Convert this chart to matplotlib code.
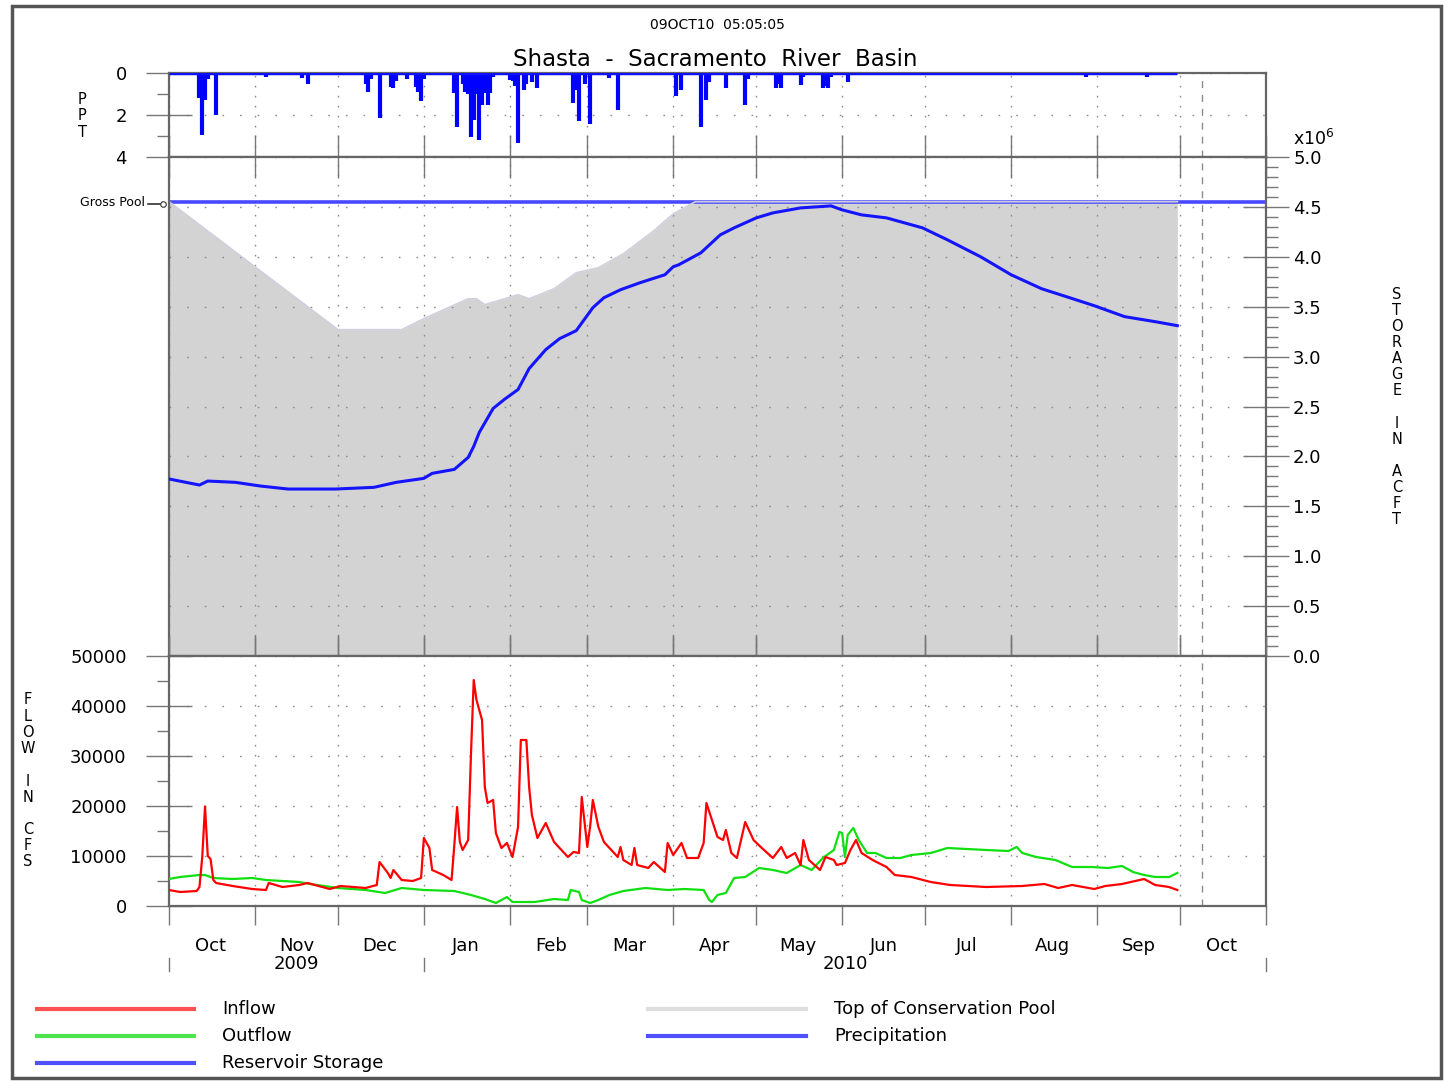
"""
Shasta - Sacramento River Basin reservoir summary plot (WY 2010).

Three stacked panels sharing a daily time axis:
  top    : precipitation (inches, inverted)
  middle : reservoir storage vs. top of conservation pool (acre-feet x 1e6)
  bottom : inflow / outflow (cfs)
"""

import matplotlib
matplotlib.use("Agg")
import matplotlib.pyplot as plt
import matplotlib.dates as mdates
from matplotlib.lines import Line2D
from matplotlib.patches import Rectangle
from matplotlib.ticker import MultipleLocator, FixedLocator, FormatStrFormatter
import numpy as np


# ---------------------------------------------------------------------------
# Data (days counted from 01 Oct 2009)
# ---------------------------------------------------------------------------

START = np.datetime64("2009-10-01")
GROSS_POOL = 4.552  # million acre-feet

storage_day = [0, 11, 14, 24, 33, 43, 60, 74, 82, 92, 95, 103, 108, 110, 112,
               117, 121, 126, 130, 136, 141, 147, 153, 157, 163, 170, 179, 182,
               184, 192, 199, 204, 212, 218, 228, 239, 243, 250, 259, 272, 281,
               293, 304, 315, 324, 334, 345, 356, 364]
storage_maf = [1.774, 1.713, 1.753, 1.740, 1.703, 1.673, 1.673, 1.690, 1.740,
               1.780, 1.830, 1.870, 1.990, 2.100, 2.240, 2.480, 2.570, 2.670,
               2.880, 3.070, 3.180, 3.260, 3.490, 3.590, 3.670, 3.740, 3.820,
               3.900, 3.920, 4.040, 4.220, 4.290, 4.390, 4.440, 4.490, 4.510,
               4.470, 4.420, 4.390, 4.290, 4.170, 4.000, 3.820, 3.680, 3.600,
               3.510, 3.400, 3.350, 3.310]

cons_day = [0, 61, 84, 92, 108, 111, 114, 126, 130, 139, 147, 155, 164, 175,
            182, 190, 364]
cons_maf = [4.552, 3.27, 3.27, 3.38, 3.58, 3.58, 3.52, 3.62, 3.58, 3.68, 3.84,
            3.89, 4.03, 4.26, 4.43, 4.552, 4.552]

inflow_day = [0, 4, 10, 11, 12, 13, 14, 15, 16, 17, 23, 30, 35, 36, 41, 47, 50,
              58, 62, 71, 75, 76, 79, 80, 81, 84, 88, 91, 92, 94, 95, 99, 102,
              103, 104, 105, 106, 108, 109, 110, 111, 113, 114, 115, 117, 118,
              120, 122, 124, 126, 127, 129, 130, 131, 133, 136, 139, 144, 146,
              148, 149, 151, 152, 153, 155, 157, 162, 163, 164, 167, 168, 169,
              173, 175, 179, 180, 182, 185, 187, 191, 193, 194, 196, 198, 200,
              201, 203, 205, 208, 211, 214, 218, 221, 223, 226, 228, 229, 231,
              235, 237, 240, 241, 244, 246, 248, 250, 254, 259, 262, 268, 275,
              282, 295, 308, 316, 321, 326, 334, 338, 344, 352, 356, 361, 364]
inflow_cfs = [3200, 2800, 3000, 3800, 9800, 19900, 10000, 9400, 5200, 4600,
              4000, 3400, 3200, 4600, 3800, 4200, 4600, 3400, 4000, 3600, 4200,
              8800, 6600, 5600, 7200, 5200, 5000, 5600, 13600, 11600, 7200,
              6200, 5200, 12200, 19800, 12800, 11200, 13200, 30200, 45200,
              41200, 37200, 23800, 20600, 21200, 14600, 11600, 12600, 9800,
              15800, 33200, 33200, 23800, 18200, 13600, 16600, 12800, 9800,
              10800, 10600, 21800, 11800, 15800, 21200, 15800, 12800, 9800,
              11800, 9200, 8200, 11600, 8200, 7600, 8800, 6800, 12600, 10200,
              12600, 9600, 9600, 12600, 20600, 17200, 13800, 13200, 15200,
              10600, 9600, 16800, 13200, 11600, 9600, 11800, 9600, 10600, 8200,
              13200, 9200, 7200, 9800, 9200, 8200, 8600, 11200, 13200, 10600,
              9200, 7800, 6200, 5800, 4800, 4200, 3800, 4000, 4400, 3600, 4200,
              3400, 4000, 4400, 5400, 4200, 3800, 3200]

outflow_day = [0, 4, 11, 13, 16, 23, 30, 35, 47, 51, 61, 71, 78, 84, 92, 103,
               109, 114, 118, 122, 124, 132, 139, 144, 145, 148, 149, 152, 155,
               159, 164, 172, 180, 186, 193, 195, 196, 198, 201, 204, 208, 213,
               218, 223, 228, 232, 236, 240, 242, 243, 244, 245, 247, 249, 252,
               255, 259, 264, 268, 275, 281, 288, 295, 303, 306, 308, 313, 320,
               326, 333, 339, 344, 348, 352, 356, 361, 364]
outflow_cfs = [5400, 5800, 6200, 6200, 5600, 5400, 5600, 5200, 4800, 4400,
               3600, 3200, 2600, 3600, 3200, 3000, 2200, 1400, 600, 1800, 800,
               800, 1400, 1200, 3200, 2800, 1200, 600, 1200, 2200, 3000, 3600,
               3200, 3400, 3200, 1200, 800, 2200, 2600, 5600, 5800, 7600, 7200,
               6600, 8200, 7200, 9600, 11200, 14800, 14600, 9800, 14200, 15600,
               13200, 10600, 10600, 9600, 9600, 10200, 10600, 11600, 11400,
               11200, 11000, 11800, 10600, 9800, 9200, 7800, 7800, 7600, 8000,
               6800, 6200, 5800, 5800, 6600]

precip_date = ["2009-10-12", "2009-10-13", "2009-10-14", "2009-10-15",
               "2009-10-18", "2009-10-19", "2009-11-05", "2009-11-09",
               "2009-11-18", "2009-11-20", "2009-11-26", "2009-12-11",
               "2009-12-12", "2009-12-13", "2009-12-16", "2009-12-20",
               "2009-12-21", "2009-12-22", "2009-12-26", "2009-12-29",
               "2009-12-30", "2009-12-31", "2010-01-01", "2010-01-09",
               "2010-01-12", "2010-01-13", "2010-01-15", "2010-01-16",
               "2010-01-17", "2010-01-18", "2010-01-19", "2010-01-20",
               "2010-01-21", "2010-01-22", "2010-01-23", "2010-01-24",
               "2010-01-25", "2010-01-26", "2010-02-01", "2010-02-02",
               "2010-02-03", "2010-02-04", "2010-02-06", "2010-02-07",
               "2010-02-09", "2010-02-11", "2010-02-20", "2010-02-24",
               "2010-02-25", "2010-02-26", "2010-02-28", "2010-03-02",
               "2010-03-09", "2010-03-12", "2010-03-29", "2010-04-02",
               "2010-04-04", "2010-04-11", "2010-04-13", "2010-04-14",
               "2010-04-20", "2010-04-27", "2010-04-28", "2010-05-08",
               "2010-05-09", "2010-05-10", "2010-05-17", "2010-05-18",
               "2010-05-25", "2010-05-26", "2010-05-27", "2010-05-28",
               "2010-06-03", "2010-08-28", "2010-09-19"]
precip_in = [1.2, 2.95, 1.3, 0.3, 2.0, 0.1, 0.2, 0.05, 0.25, 0.5, 0.1, 0.5,
             0.9, 0.3, 2.15, 0.65, 0.7, 0.4, 0.3, 0.65, 0.9, 1.35, 0.3, 0.1,
             0.95, 2.57, 0.5, 0.9, 1.0, 3.05, 2.24, 1.0, 3.2, 1.52, 0.95, 1.52,
             0.95, 0.2, 0.33, 0.4, 0.6, 3.33, 0.8, 0.5, 0.43, 0.7, 0.1, 1.43,
             0.8, 2.3, 0.5, 2.43, 0.25, 1.76, 0.1, 1.1, 0.8, 2.57, 1.29, 0.43,
             0.7, 1.52, 0.3, 0.7, 0.5, 0.7, 0.57, 0.2, 0.7, 0.6, 0.7, 0.2,
             0.43, 0.2, 0.2]

year_labels = ["2009", "2010"]

RUN_DATE = np.datetime64("2010-10-09")
RUN_STAMP = "09OCT10  05:05:05"
TITLE = "Shasta  -  Sacramento  River  Basin"


# ---------------------------------------------------------------------------
# Helpers
# ---------------------------------------------------------------------------

W, H = 1447, 1081


def fx(px):
    return px / W


def fy(py):
    return 1 - py / H


def to_dates(days):
    return START + np.asarray(days).astype("timedelta64[D]")


GRID = "#8c8c8c"
SPINE = "#666666"
VDOTS = (0, (1.2, 6.0))
HDOTS = (0, (1.2, 11.5))


def style_axes(ax):
    for s in ax.spines.values():
        s.set_color(SPINE)
        s.set_linewidth(1.6)
    ax.xaxis.set_major_locator(mdates.MonthLocator())
    ax.xaxis.set_minor_locator(mdates.MonthLocator(bymonthday=16))
    ax.grid(axis="x", which="major", color=GRID, linestyle=VDOTS, linewidth=1)
    ax.grid(axis="y", which="major", color=GRID, linestyle=HDOTS, linewidth=1)
    ax.axvline(RUN_DATE, color=GRID, linewidth=1, dashes=(5, 5), zorder=1.6)
    ax.tick_params(axis="x", which="minor", length=0)
    ax.tick_params(axis="both", which="major", color="#777777", width=1)
    ax.tick_params(axis="y", which="minor", color="#777777", width=1)


# ---------------------------------------------------------------------------
# Figure
# ---------------------------------------------------------------------------

fig = plt.figure(figsize=(W / 100, H / 100), dpi=100)
fig.patch.set_facecolor("white")
plt.rcParams["font.family"] = ["DejaVu Sans"]

x0, x1 = 169, 1266
ax_ppt = fig.add_axes([fx(x0), fy(157), fx(x1) - fx(x0), fy(73) - fy(157)])
ax_sto = fig.add_axes([fx(x0), fy(656), fx(x1) - fx(x0), fy(157) - fy(656)],
                      sharex=ax_ppt)
ax_flo = fig.add_axes([fx(x0), fy(906), fx(x1) - fx(x0), fy(656) - fy(906)],
                      sharex=ax_ppt)

for ax in (ax_ppt, ax_sto, ax_flo):
    style_axes(ax)
ax_ppt.set_xlim(np.datetime64("2009-10-01"), np.datetime64("2010-11-01"))

# --- precipitation --------------------------------------------------------
pdates = np.array(precip_date, dtype="datetime64[D]")
ax_ppt.vlines(pdates, 0, precip_in, color="#0000ff", linewidth=3.0, zorder=3)
ax_ppt.plot([START, np.datetime64("2010-09-30")], [0, 0], color="#1010ff",
            linewidth=2.5, zorder=3, solid_capstyle="butt")
ax_ppt.set_ylim(4, 0)
ax_ppt.yaxis.set_major_locator(FixedLocator([0, 2, 4]))
ax_ppt.yaxis.set_minor_locator(FixedLocator([1, 3]))
ax_ppt.yaxis.set_major_formatter(FormatStrFormatter("%d"))
ax_ppt.tick_params(axis="y", which="major", direction="inout", length=33,
                   pad=14, labelsize=13)
ax_ppt.tick_params(axis="y", which="minor", direction="out", length=8.6)
ax_ppt.tick_params(axis="x", which="major", direction="in", length=16,
                   labelbottom=False)
ax_ppt.tick_params(axis="x", which="minor", labelbottom=False)

# --- storage --------------------------------------------------------------
cdates = to_dates(cons_day)
ax_sto.fill_between(cdates, 0, cons_maf, color="#d3d3d3", linewidth=0,
                    zorder=0.8)
ax_sto.axhline(GROSS_POOL, color="#4848ff", linewidth=2.6, zorder=2)
ax_sto.plot(cdates, cons_maf, color="#cfd0dc", linewidth=1.2, zorder=2.2)
ax_sto.plot(to_dates(storage_day), storage_maf, color="#1414ff",
            linewidth=2.2, zorder=3)
ax_sto.set_ylim(0, 5)
ax_sto.yaxis.tick_right()
ax_sto.yaxis.set_major_locator(MultipleLocator(0.5))
ax_sto.yaxis.set_minor_locator(MultipleLocator(0.1))
ax_sto.yaxis.set_major_formatter(FormatStrFormatter("%.1f"))
ax_sto.tick_params(axis="y", which="major", direction="inout", length=33,
                   pad=3, labelsize=13, left=False, right=True)
ax_sto.tick_params(axis="y", which="minor", direction="out", length=8.6,
                   left=False, right=True)
ax_sto.tick_params(axis="x", which="major", direction="in", length=15,
                   top=True, bottom=True, labelbottom=False)
ax_sto.tick_params(axis="x", which="minor", labelbottom=False)

# --- flow -----------------------------------------------------------------
ax_flo.plot(to_dates(outflow_day), outflow_cfs, color="#10e010",
            linewidth=1.6, zorder=3)
ax_flo.plot(to_dates(inflow_day), inflow_cfs, color="#ff0000",
            linewidth=1.6, zorder=3.1)
ax_flo.set_ylim(0, 50000)
ax_flo.yaxis.set_major_locator(MultipleLocator(10000))
ax_flo.yaxis.set_minor_locator(MultipleLocator(5000))
ax_flo.yaxis.set_major_formatter(FormatStrFormatter("%d"))
ax_flo.tick_params(axis="y", which="major", direction="inout", length=33,
                   pad=14, labelsize=13)
ax_flo.tick_params(axis="y", which="minor", direction="out", length=8.6)
ax_flo.tick_params(axis="x", which="major", direction="out", length=14,
                   top=True)
ax_flo.xaxis.set_major_formatter(mdates.DateFormatter(""))
ax_flo.xaxis.set_minor_formatter(mdates.DateFormatter("%b"))
ax_flo.tick_params(axis="x", which="minor", length=0, pad=22, labelsize=13)

# year labels centred on their span, with small separator ticks
xt = ax_flo.get_xaxis_transform()
year_edges = [np.datetime64("2009-10-01"), np.datetime64("2010-01-01"),
              np.datetime64("2010-11-01")]
for i, lab in enumerate(year_labels):
    mid = year_edges[i] + (year_edges[i + 1] - year_edges[i]) / 2
    ax_flo.text(mid, -0.232, lab, transform=xt, ha="center", va="center",
                fontsize=13)
for edge in year_edges:
    ax_flo.plot([edge, edge], [-0.207, -0.258], transform=xt, color="#777777",
                linewidth=1, clip_on=False)

# ---------------------------------------------------------------------------
# Figure-level text
# ---------------------------------------------------------------------------

fig.text(fx(717), fy(25), RUN_STAMP, ha="center", va="center", fontsize=10)
fig.text(fx(715), fy(60), TITLE, ha="center", va="center", fontsize=16.5)

fig.text(fx(82), fy(116), "P\nP\nT", ha="center", va="center",
         fontsize=10.5, linespacing=1.15)
fig.text(fx(28), fy(781), "F\nL\nO\nW\n\nI\nN\n\nC\nF\nS", ha="center",
         va="center", fontsize=10.5, linespacing=1.1)
fig.text(fx(1397), fy(407), "S\nT\nO\nR\nA\nG\nE\n\nI\nN\n\nA\nC\nF\nT",
         ha="center", va="center", fontsize=10.5, linespacing=1.09)
fig.text(fx(1293), fy(139), r"x$\mathregular{10^6}$", ha="left", va="center",
         fontsize=12.5)

fig.text(fx(145), fy(203), "Gross Pool", ha="right", va="center", fontsize=9)
fig.add_artist(Line2D([fx(148), fx(160)], [fy(204), fy(204)],
                      color="#333333", linewidth=1.2))
fig.add_artist(Line2D([fx(163)], [fy(204)], marker="o", markersize=4,
                      markerfacecolor="white", markeredgecolor="#333333",
                      markeredgewidth=0.8))

# legend
legend_rows = [
    (37, 194, 1009, "#ff5252", "Inflow"),
    (37, 194, 1036, "#4ee44e", "Outflow"),
    (37, 194, 1063, "#5050ff", "Reservoir Storage"),
    (648, 806, 1009, "#dedede", "Top of Conservation Pool"),
    (648, 806, 1036, "#5050ff", "Precipitation"),
]
for xa, xb, yy, col, lab in legend_rows:
    fig.add_artist(Line2D([fx(xa), fx(xb)], [fy(yy), fy(yy)], color=col,
                          linewidth=3))
    fig.text(fx(xb + 28), fy(yy), lab, ha="left", va="center", fontsize=13)

# outer frame
fig.add_artist(Rectangle((fx(12), fy(1078)), fx(1441) - fx(12),
                         fy(6) - fy(1078), transform=fig.transFigure,
                         fill=False, edgecolor="#555555", linewidth=2.5))

fig.savefig("out.png", dpi=100)
plt.close(fig)
